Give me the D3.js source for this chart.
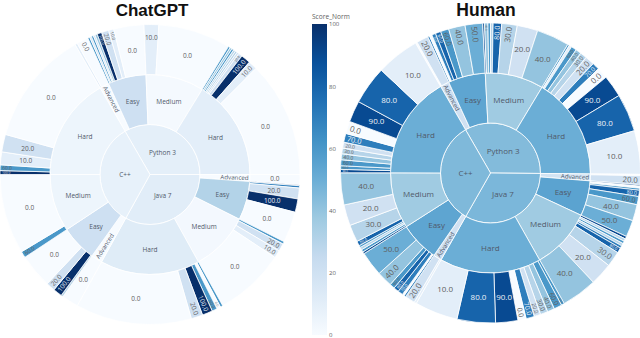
<!DOCTYPE html>
<html>
<head>
<meta charset="utf-8">
<script src="https://d3js.org/d3.v7.min.js"></script>
<style>
  html, body { margin: 0; padding: 0; background: #fff; }
  svg { display: block; }
  text { font-family: "Open Sans", sans-serif; }
</style>
</head>
<body>
<script>
const languages = ["Python 3", "Java 7", "C++"]
const levels = ["Advanced", "Easy", "Medium", "Hard"]

// ChatGPT: mean score per language and level, then share + score per leaf
const gptLangScores = [9.5, 11, 8]
const gptLevelScores = [[0, 21, 1.5, 10], [0, 31, 2, 12], [0, 21, 5, 5]]
const gptLeafShares = [
  [[1, 4.5], [.8, .7, .8, .7, .9, 1.8, 2.8, 2, 11.7], [5.7, 28.1], [.8, .8, .8, .8, .8, .8, 1.5, 3.7, 3.5, 45]],
  [[4], [.3, .9, 4.2, 5.2, 12], [1, 3, 3, 27.4], [1, 1.5, 2, 4, 4.5, 45]],
  [[6.5], [.8, 3.5, 3.5, 13.2], [2.5, 31], [1.5, 2.2, 5, 6.8, 44.5]]
]
const gptLeafScores = [
  [[10, 0], [60, 20, 60, 20, 40, 100, 20, 10, 0], [10, 0], [60, 40, 60, 30, 30, 20, 20, 100, 10, 0]],
  [[0], [100, 70, 20, 100, 0], [60, 20, 10, 0], [60, 0, 60, 100, 20, 0]],
  [[0], [30, 100, 20, 0], [60, 0], [100, 60, 10, 20, 0]]
]

// Human
const humanLangScores = [44, 46, 45]
const humanLevelScores = [[20, 54, 37, 50], [18, 55, 37, 50], [20, 54, 37, 50]]
const humanLeafShares = [
  [[.7, 4.6], [.7, 1, 1.5, 2.1, 3.2, 6.4, 6.8], [.7, 1.3, 1, 1, 3.3, 6, 8, 12.7], [.7, 1, 2.1, 2.2, 2.6, 3.6, 2.8, 4.3, 8.6, 14.7, 16.9]],
  [[.5, 3.5], [.5, .8, .8, 2.4, 3.2, 6.3, 6.5], [1, 1, 1, 1, 1, 2, 6, 8.7, 13.8], [1.2, 3.1, 2.8, 2.9, 2.5, 3.2, 3.2, 8.6, 14.9, 16.7]],
  [[.9, 3.9], [.7, .8, 2, 2, 2, 6, 9.5], [.8, 1, 1, .8, 1.8, 6.7, 8.1, 12.4], [1.3, 1.4, 2.3, 2.3, 2.2, 2.3, 3.4, 4.8, 8.3, 14.9, 16.7]]
]
const humanLeafScores = [
  [[0, 20], [70, 0, 70, 80, 60, 40, 50], [90, 40, 60, 30, 80, 30, 20, 40], [60, 10, 60, 40, 30, 20, 70, 0, 90, 80, 10]],
  [[0, 20], [90, 0, 60, 80, 60, 40, 50], [90, 30, 60, 30, 70, 80, 30, 20, 40], [60, 60, 40, 30, 20, 70, 0, 90, 80, 10]],
  [[10, 20], [70, 0, 70, 80, 60, 40, 50], [90, 60, 30, 60, 80, 30, 20, 40], [90, 60, 60, 40, 30, 20, 70, 0, 90, 80, 10]]
]

const scoreTicks = [0, 20, 40, 60, 80, 100]

const blues = d3.piecewise(d3.interpolateRgb, d3.schemeBlues[9])
const color = d3.scaleSequential(blues).domain([0, 100])

const svg = d3.select("body").append("svg").attr("width", 640).attr("height", 338)

function buildTree(name, langScores, levelScores, leafShares, leafScores) {
  return {
    name: name,
    children: languages.map((lang, i) => ({
      name: lang,
      score: langScores[i],
      children: levels.map((level, j) => ({
        name: level,
        score: levelScores[i][j],
        children: leafShares[i][j].map((share, k) => ({
          name: leafScores[i][j][k].toFixed(1),
          score: leafScores[i][j][k],
          share: share
        }))
      }))
    }))
  }
}

function polar(r, a) {
  return [r * Math.sin(a), -r * Math.cos(a)]
}

// does a horizontal box of w x h fit the ring sector when centred at radius r?
function fitsFlat(w, h, r, a0, a1, r0, r1) {
  const mid = (a0 + a1) / 2
  const c = polar(r, mid)
  return [[-1, -1], [1, -1], [1, 1], [-1, 1]].every(s => {
    const x = c[0] + s[0] * w / 2
    const y = c[1] + s[1] * h / 2
    const rad = Math.hypot(x, y)
    let ang = Math.atan2(x, -y)
    while (ang < mid - Math.PI) ang += 2 * Math.PI
    while (ang > mid + Math.PI) ang -= 2 * Math.PI
    return rad > r0 && rad < r1 && ang > a0 && ang < a1
  })
}

function drawSunburst(tree, cx, cy, R, rotate, fontSize) {
  const root = d3.hierarchy(tree).sum(d => d.share || 0)
  d3.partition().size([2 * Math.PI, 4])(root)

  const radius = d3.scaleLinear().domain([1, 4]).range([0, R])
  const rot = rotate * Math.PI / 180
  const arc = d3.arc()
    .startAngle(d => d.x0 + rot)
    .endAngle(d => d.x1 + rot)
    .innerRadius(d => radius(d.y0))
    .outerRadius(d => radius(d.y1))

  const g = svg.append("g").attr("transform", "translate(" + cx + "," + cy + ")")
  const nodes = root.descendants().filter(d => d.depth > 0)

  g.selectAll("path")
    .data(nodes)
    .enter().append("path")
    .attr("d", arc)
    .attr("fill", d => color(d.data.score))
    .attr("stroke", "#fff")
    .attr("stroke-width", .8)

  nodes.forEach(d => {
    const a0 = d.x0 + rot, a1 = d.x1 + rot, mid = (a0 + a1) / 2
    const r0 = radius(d.y0), r1 = radius(d.y1)
    const label = d.data.name
    const h = fontSize * 1.05
    const textW = label.length * fontSize * .5
    let size = fontSize, pos = null, angle = 0

    if (d.depth == 1) {
      pos = polar(r1 * .5, mid)
    } else {
      // try flat first, pushing outward if needed
      d3.range((r0 + r1) / 2, r1 - 5, 3).forEach(r => {
        if (!pos && fitsFlat(textW, h, r, a0, a1, r0, r1)) pos = polar(r, mid)
      })
    }
    if (!pos) {
      // radial text, shrunk to what the slice width allows
      const width = (a1 - a0) * (r1 - 6)
      size = d.depth == 2 ? 6.2 : Math.min(fontSize, width / 1.15)
      if (size < 2.6) return
      const w = label.length * size * .56
      pos = polar(r1 - w / 2 - 1.5, mid)
      angle = mid * 180 / Math.PI - 90
      if (Math.sin(mid) < 0) angle += 180
    }
    g.append("text")
      .attr("transform", "translate(" + pos[0] + "," + pos[1] + ") rotate(" + angle + ")")
      .attr("text-anchor", "middle")
      .attr("dy", ".35em")
      .attr("font-size", size)
      .attr("fill", d.data.score >= 65 ? "#eef3f8" : (d.depth == 3 ? "#606060" : "#50596a"))
      .text(label)
  })
}

function drawColorbar() {
  const x0 = 312, barW = 15
  const y = d3.scaleLinear().domain([0, 100]).range([335, 24])
  const grad = svg.append("defs").append("linearGradient")
    .attr("id", "scoreGrad").attr("x1", 0).attr("x2", 0).attr("y1", 1).attr("y2", 0)
  d3.schemeBlues[9].forEach((c, i) => {
    grad.append("stop").attr("offset", (i / 8 * 100) + "%").attr("stop-color", c)
  })
  svg.append("rect")
    .attr("x", x0).attr("y", y(100))
    .attr("width", barW).attr("height", y(0) - y(100))
    .attr("fill", "url(#scoreGrad)")

  const axis = svg.append("g")
    .attr("transform", "translate(" + (x0 + barW) + ",0)")
    .call(d3.axisRight(y).tickValues(scoreTicks).tickSize(0).tickPadding(2))
  axis.select(".domain").remove()
  axis.selectAll("text").attr("font-size", 6).attr("fill", "#606060")
    .attr("font-family", "\"Open Sans\", sans-serif")

  svg.append("text").attr("x", x0).attr("y", 18.5)
    .attr("font-size", 6.6).attr("fill", "#606060").text("Score_Norm")
}

drawSunburst(buildTree("ChatGPT", gptLangScores, gptLevelScores, gptLeafShares, gptLeafScores), 150, 174.5, 150, -30, 6.5)
drawSunburst(buildTree("Human", humanLangScores, humanLevelScores, humanLeafShares, humanLeafScores), 490.5, 173, 150, -30, 8)
drawColorbar()

svg.append("text").attr("x", 152).attr("y", 15.6).attr("text-anchor", "middle")
  .attr("font-size", 17).attr("font-weight", 700).attr("fill", "#111").style("font-family", "\"Liberation Sans\", sans-serif").text("ChatGPT")
svg.append("text").attr("x", 486).attr("y", 15.6).attr("text-anchor", "middle")
  .attr("font-size", 17.5).attr("font-weight", 700).attr("fill", "#111").style("font-family", "\"Liberation Sans\", sans-serif").text("Human")
</script>
</body>
</html>
